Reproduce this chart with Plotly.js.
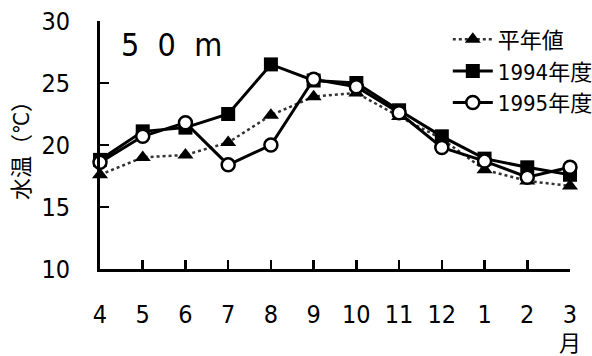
<!DOCTYPE html>
<html>
<head>
<meta charset="utf-8">
<script src="https://cdn.plot.ly/plotly-3.0.1.min.js"></script>
<style>
  html, body { margin: 0; padding: 0; background: #fff; }
  #chart { width: 592px; height: 356px; }
</style>
</head>
<body>
<div id="chart"></div>
<script>
// Monthly water temperature at 50 m depth (fiscal year, April to March)
const months = ['4', '5', '6', '7', '8', '9', '10', '11', '12', '1', '2', '3'];
const normalTemp = [17.6, 19.0, 19.2, 20.2, 22.4, 23.9, 24.2, 22.3, 20.5, 18.0, 17.1, 16.7];
const temp1994 = [18.8, 21.1, 21.4, 22.5, 26.5, 25.2, 25.0, 22.8, 20.7, 18.9, 18.2, 17.6];
const temp1995 = [18.6, 20.7, 21.8, 18.4, 20.0, 25.3, 24.7, 22.6, 19.8, 18.7, 17.4, 18.2];
const yTicks = [10, 15, 20, 25, 30];

const xIdx = months.map((_, i) => i);
const NUM_FONT = '"DejaVu Sans Condensed", "Liberation Sans Narrow", "Liberation Sans", sans-serif';
const CJK_FONT = '"DejaVu Sans Condensed", "Noto Sans CJK JP", sans-serif';

const traces = [
  {
    name: '平年値', x: xIdx, y: normalTemp, type: 'scatter', mode: 'lines+markers',
    cliponaxis: false,
    line: { color: '#333', width: 2.5, dash: 'dot' },
    marker: { symbol: 'triangle-up', size: 14, color: '#000' }
  },
  {
    name: '1994年度', x: xIdx, y: temp1994, type: 'scatter', mode: 'lines+markers',
    cliponaxis: false,
    line: { color: '#000', width: 3 },
    marker: { symbol: 'square', size: 14, color: '#000' }
  },
  {
    name: '1995年度', x: xIdx, y: temp1995, type: 'scatter', mode: 'lines+markers',
    cliponaxis: false,
    line: { color: '#000', width: 3 },
    marker: { symbol: 'circle', size: 13, color: '#fff', line: { color: '#000', width: 2.5 } }
  }
];

const layout = {
  width: 592, height: 356,
  margin: { l: 100, r: 22, t: 21, b: 87, autoexpand: false },
  paper_bgcolor: '#fff', plot_bgcolor: '#fff',
  showlegend: true,
  legend: {
    x: 0.74, xanchor: 'left', y: 1.01, yanchor: 'top',
    bgcolor: 'rgba(0,0,0,0)',
    font: { family: CJK_FONT, size: 22, color: '#000' },
    tracegroupgap: 0, itemwidth: 40
  },
  xaxis: {
    range: [0, 11], tickmode: 'array', tickvals: xIdx, ticktext: months,
    showgrid: false, zeroline: false,
    showline: true, linecolor: '#000', linewidth: 3,
    ticks: 'inside', ticklen: 9, tickwidth: 2.5, tickcolor: '#000',
    ticklabelstandoff: 21,
    tickfont: { family: NUM_FONT, size: 25, color: '#000' }
  },
  yaxis: {
    range: [10, 30], tickmode: 'array', tickvals: yTicks,
    showgrid: false, zeroline: false,
    showline: true, linecolor: '#000', linewidth: 3,
    ticks: 'inside', ticklen: 9, tickwidth: 2.5, tickcolor: '#000',
    ticklabelstandoff: 22,
    tickfont: { family: NUM_FONT, size: 25, color: '#000' },
    title: { text: '水温（℃）', standoff: 6, font: { family: CJK_FONT, size: 22, color: '#000' } }
  },
  annotations: [
    {
      text: '5  0  m', xref: 'paper', yref: 'paper', x: 0.152, y: 0.905,
      xanchor: 'center', yanchor: 'middle', showarrow: false,
      font: { family: NUM_FONT, size: 32, color: '#000' }
    },
    {
      text: '月', xref: 'x', yref: 'paper', x: 11, y: -0.3,
      xanchor: 'center', yanchor: 'middle', showarrow: false,
      font: { family: CJK_FONT, size: 22, color: '#000' }
    }
  ]
};

Plotly.newPlot('chart', traces, layout, { displayModeBar: false, staticPlot: true });
</script>
</body>
</html>
